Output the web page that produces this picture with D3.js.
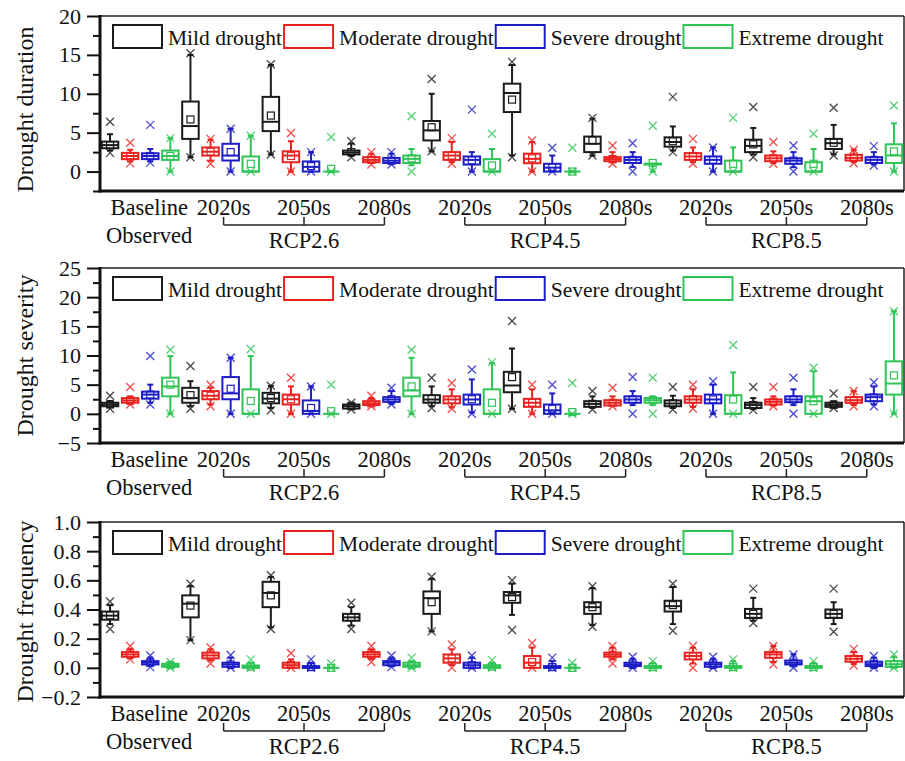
<!DOCTYPE html>
<html>
<head>
<meta charset="utf-8">
<script src="https://cdn.jsdelivr.net/npm/d3@7"></script>
<style>
  html, body { margin: 0; padding: 0; background: #fff; }
  svg text { font-family: "Liberation Serif", "Times New Roman", serif; fill: #111; }
</style>
</head>
<body>
<div id="chart"></div>
<script>
// ---- data: each row = [xMin, whiskerLo, Q1, median, Q3, whiskerHi, xMax, mean]
const groups = ['Baseline', '2020s', '2050s', '2080s', '2020s', '2050s', '2080s', '2020s', '2050s', '2080s'];
const scenarios = ['RCP2.6', 'RCP4.5', 'RCP8.5'];
const seriesNames = ['Mild drought', 'Moderate drought', 'Severe drought', 'Extreme drought'];
const seriesColors = ['#1b1b1b', '#e8231f', '#1d1dc6', '#2fc455'];

const durMild = [
  [2.4, 2.7, 3.0, 3.4, 3.85, 4.8, 6.4, 3.4],
  [1.85, 1.85, 4.2, 5.85, 9.0, 15.0, 15.2, 6.7],
  [2.2, 2.2, 5.2, 6.4, 9.6, 13.7, 13.8, 7.2],
  [1.85, 2.0, 2.2, 2.45, 2.7, 3.6, 3.9, 2.5],
  [2.6, 2.6, 4.0, 5.3, 6.5, 10.0, 11.9, 5.7],
  [1.85, 2.06, 7.65, 10.1, 11.3, 13.7, 14.1, 9.25],
  [2.06, 2.06, 2.5, 3.57, 4.5, 6.8, 6.9, 4.0],
  [2.5, 2.7, 3.2, 3.8, 4.4, 5.8, 9.6, 3.9],
  [1.85, 2.2, 2.5, 3.3, 4.1, 5.6, 8.3, 3.5],
  [2.06, 2.2, 2.9, 3.65, 4.2, 6.0, 8.2, 3.7]
];
const durModerate = [
  [1.05, 1.3, 1.6, 2.0, 2.4, 2.8, 3.7, 2.0],
  [1.0, 1.4, 2.05, 2.55, 3.1, 4.1, 4.2, 2.55],
  [0, 0, 1.2, 2.06, 2.6, 3.9, 4.95, 2.0],
  [0.9, 1.1, 1.2, 1.5, 1.85, 2.3, 2.5, 1.5],
  [1.0, 1.2, 1.5, 2.06, 2.5, 3.8, 4.3, 2.05],
  [0, 0, 1.07, 1.63, 2.3, 3.8, 4.0, 1.7],
  [1.0, 1.2, 1.33, 1.6, 1.85, 2.5, 3.35, 1.6],
  [1.0, 1.2, 1.5, 1.94, 2.37, 3.1, 4.2, 1.95],
  [1.0, 1.1, 1.33, 1.7, 2.06, 2.6, 3.8, 1.7],
  [1.07, 1.2, 1.42, 1.76, 2.15, 2.8, 2.8, 1.8]
];
const durSevere = [
  [1.15, 1.3, 1.6, 2.0, 2.35, 2.9, 6.0, 2.0],
  [0, 0, 1.42, 2.06, 3.57, 5.5, 5.5, 2.5],
  [0, 0, 0, 0.6, 1.3, 2.5, 2.5, 0.7],
  [0.9, 1.0, 1.1, 1.4, 1.75, 2.3, 2.5, 1.4],
  [0, 0, 0.9, 1.5, 1.94, 2.5, 7.96, 1.45],
  [0, 0, 0, 0.5, 1.0, 2.06, 3.05, 0.56],
  [0, 0.6, 1.1, 1.5, 1.85, 2.5, 3.65, 1.5],
  [0, 0, 1.0, 1.5, 1.94, 3.1, 3.1, 1.5],
  [0, 0.56, 1.0, 1.4, 1.7, 2.5, 3.35, 1.4],
  [0.77, 0.9, 1.1, 1.5, 1.85, 2.5, 3.27, 1.5]
];
const durExtreme = [
  [0, 0, 1.5, 2.0, 2.7, 4.3, 4.3, 2.0],
  [0, 0, 0, 0, 1.94, 4.6, 4.6, 1.0],
  [0, 0, 0, 0, 0, 0, 4.45, 0.35],
  [0, 0.8, 1.1, 1.63, 2.06, 2.9, 7.1, 1.7],
  [0, 0, 0, 0, 1.6, 2.9, 4.86, 0.77],
  [0, 0, 0, 0, 0, 0, 3.05, 0],
  [0, 0, 0.9, 1.0, 1.0, 1.0, 5.9, 1.1],
  [0, 0, 0, 0, 1.4, 3.1, 6.9, 1.0],
  [0, 0, 0, 0, 1.2, 2.9, 4.86, 1.0],
  [0, 0, 1.1, 2.06, 3.5, 6.2, 8.5, 2.6]
];

const sevMild = [
  [0.86, 1.2, 1.3, 1.6, 1.9, 2.2, 3.1, 1.6],
  [0.86, 1.3, 1.9, 2.7, 4.46, 5.6, 8.2, 3.2],
  [0.6, 1.0, 1.8, 2.6, 3.6, 4.8, 4.8, 2.7],
  [0.74, 0.9, 0.9, 1.3, 1.6, 1.9, 1.9, 1.3],
  [1.0, 1.3, 1.9, 2.46, 3.2, 4.7, 6.2, 2.6],
  [0.86, 0.86, 3.7, 4.86, 7.2, 11.2, 15.9, 6.3],
  [0.74, 1.0, 1.2, 1.7, 2.17, 3.0, 3.9, 1.7],
  [0.74, 1.0, 1.3, 1.77, 2.3, 3.1, 4.6, 1.8],
  [0.63, 0.8, 1.0, 1.5, 1.9, 2.7, 4.6, 1.5],
  [1.0, 1.1, 1.2, 1.54, 1.9, 2.17, 3.5, 1.55]
];
const sevModerate = [
  [1.6, 1.7, 1.9, 2.3, 2.7, 3.0, 4.6, 2.3],
  [1.3, 1.6, 2.5, 3.1, 3.9, 4.5, 5.0, 3.1],
  [0, 0, 1.6, 2.5, 3.3, 4.7, 6.2, 2.5],
  [1.3, 1.4, 1.5, 1.8, 2.17, 2.7, 3.1, 1.8],
  [0.86, 1.1, 1.8, 2.46, 3.0, 4.2, 5.3, 2.4],
  [0, 0, 1.2, 1.9, 2.57, 4.2, 5.0, 1.9],
  [1.3, 1.4, 1.43, 1.9, 2.34, 3.0, 4.46, 1.9],
  [0.86, 1.2, 1.9, 2.46, 3.0, 4.2, 5.0, 2.5],
  [1.3, 1.4, 1.6, 2.06, 2.46, 3.0, 4.6, 2.06],
  [1.3, 1.5, 1.9, 2.34, 2.86, 3.9, 3.9, 2.34]
];
const sevSevere = [
  [1.6, 1.9, 2.6, 3.3, 3.8, 5.0, 9.9, 3.3],
  [0, 0, 2.5, 3.5, 6.3, 9.6, 9.6, 4.3],
  [0, 0, 0, 0.5, 2.3, 4.7, 4.7, 1.0],
  [1.6, 1.7, 2.06, 2.46, 2.86, 3.9, 4.46, 2.5],
  [0, 0.2, 1.6, 2.46, 3.3, 5.9, 7.6, 2.5],
  [0, 0, 0, 0.6, 1.6, 3.5, 5.0, 0.86],
  [0, 1.5, 1.9, 2.46, 3.0, 3.9, 6.3, 2.46],
  [0, 0, 1.8, 2.46, 3.3, 5.0, 5.6, 2.46],
  [0, 1.5, 2.0, 2.46, 3.0, 4.2, 6.2, 2.46],
  [1.3, 1.6, 2.17, 2.86, 3.3, 4.7, 5.4, 2.8]
];
const sevExtreme = [
  [0, 0, 3.0, 4.7, 6.2, 9.9, 11.0, 5.0],
  [0, 0, 0, 0, 4.2, 9.9, 11.1, 2.2],
  [0, 0, 0, 0, 0, 0, 5.0, 0.45],
  [0, 0, 3.0, 4.0, 6.2, 9.6, 11.0, 4.7],
  [0, 0, 0, 0, 4.2, 8.7, 8.86, 1.9],
  [0, 0, 0, 0, 0, 0, 5.3, 0.3],
  [0, 1.5, 1.9, 2.34, 2.7, 3.0, 6.2, 2.34],
  [0, 0, 0, 0, 3.2, 7.1, 11.8, 2.46],
  [0, 0, 0, 2.17, 3.0, 7.3, 7.9, 2.17],
  [0, 0, 3.3, 5.2, 9.0, 17.6, 17.6, 6.6]
];

const frqMild = [
  [0.266, 0.30, 0.33, 0.358, 0.386, 0.43, 0.455, 0.36],
  [0.19, 0.19, 0.346, 0.44, 0.497, 0.56, 0.577, 0.427],
  [0.266, 0.277, 0.416, 0.513, 0.59, 0.624, 0.635, 0.497],
  [0.266, 0.29, 0.323, 0.346, 0.37, 0.416, 0.446, 0.346],
  [0.25, 0.25, 0.37, 0.478, 0.524, 0.61, 0.624, 0.45],
  [0.259, 0.363, 0.446, 0.497, 0.52, 0.577, 0.6, 0.485],
  [0.282, 0.293, 0.37, 0.416, 0.45, 0.547, 0.56, 0.416],
  [0.254, 0.3, 0.386, 0.423, 0.46, 0.554, 0.577, 0.43],
  [0.307, 0.323, 0.342, 0.37, 0.404, 0.48, 0.543, 0.37],
  [0.247, 0.3, 0.342, 0.37, 0.4, 0.45, 0.543, 0.37]
];
const frqModerate = [
  [0.058, 0.065, 0.076, 0.092, 0.108, 0.13, 0.15, 0.092],
  [0.03, 0.05, 0.065, 0.085, 0.104, 0.127, 0.14, 0.085],
  [0, 0, 0, 0.018, 0.035, 0.058, 0.1, 0.02],
  [0.04, 0.06, 0.076, 0.092, 0.108, 0.127, 0.15, 0.092],
  [0, 0.02, 0.035, 0.065, 0.092, 0.127, 0.16, 0.065],
  [0, 0, 0, 0.035, 0.081, 0.139, 0.17, 0.04],
  [0.03, 0.058, 0.076, 0.09, 0.104, 0.139, 0.15, 0.09],
  [0, 0.03, 0.058, 0.081, 0.104, 0.139, 0.15, 0.081],
  [0.023, 0.04, 0.069, 0.092, 0.108, 0.15, 0.15, 0.09],
  [0.016, 0.025, 0.042, 0.062, 0.081, 0.108, 0.13, 0.062]
];
const frqSevere = [
  [0.005, 0.012, 0.023, 0.035, 0.046, 0.07, 0.085, 0.035],
  [0, 0, 0.007, 0.023, 0.035, 0.07, 0.088, 0.023],
  [0, 0, 0, 0, 0.012, 0.035, 0.058, 0.005],
  [0.005, 0.01, 0.018, 0.035, 0.046, 0.07, 0.085, 0.035],
  [0, 0, 0, 0.018, 0.035, 0.07, 0.085, 0.018],
  [0, 0, 0, 0, 0.012, 0.046, 0.07, 0.005],
  [0, 0, 0.012, 0.023, 0.035, 0.062, 0.076, 0.023],
  [0, 0, 0.007, 0.023, 0.035, 0.062, 0.076, 0.023],
  [0, 0.01, 0.023, 0.035, 0.05, 0.092, 0.092, 0.035],
  [0, 0, 0.012, 0.025, 0.042, 0.07, 0.081, 0.025]
];
const frqExtreme = [
  [0, 0, 0.007, 0.018, 0.028, 0.035, 0.04, 0.018],
  [0, 0, 0, 0.005, 0.016, 0.035, 0.058, 0.008],
  [0, 0, 0, 0, 0, 0, 0.03, 0],
  [0, 0, 0.007, 0.018, 0.035, 0.046, 0.07, 0.018],
  [0, 0, 0, 0.005, 0.018, 0.035, 0.053, 0.008],
  [0, 0, 0, 0, 0, 0, 0.035, 0],
  [0, 0, 0, 0.005, 0.012, 0.035, 0.046, 0.005],
  [0, 0, 0, 0.005, 0.012, 0.046, 0.058, 0.005],
  [0, 0, 0, 0.005, 0.012, 0.035, 0.046, 0.005],
  [0, 0, 0.007, 0.025, 0.046, 0.076, 0.092, 0.025]
];

const durTicks = [0, 5, 10, 15, 20];
const sevTicks = [-5, 0, 5, 10, 15, 20, 25];
const frqTicks = [-0.2, 0.0, 0.2, 0.4, 0.6, 0.8, 1.0];

const panels = [
  { title: 'Drought duration', domain: [-2.5, 20], ticks: durTicks, minorStep: 2.5, fmt: d3.format('d'),
    series: [durMild, durModerate, durSevere, durExtreme], top: 16, titleDy: 6 },
  { title: 'Drought severity', domain: [-5, 25], ticks: sevTicks, minorStep: 2.5, fmt: d3.format('d'),
    series: [sevMild, sevModerate, sevSevere, sevExtreme], top: 268, titleDy: 0 },
  { title: 'Drought frequency', domain: [-0.2, 1.0], ticks: frqTicks, minorStep: 0.1, fmt: d3.format('.1f'),
    series: [frqMild, frqModerate, frqSevere, frqExtreme], top: 522, titleDy: 2 }
];

// ---- layout
const W = 905, H = 761;
const plotL = 100, plotR = 904, plotH = 175;
const boxW = 16.5;

const svg = d3.select('#chart').append('svg')
  .attr('width', W).attr('height', H)
  .attr('viewBox', `0 0 ${W} ${H}`);

// one slot per box: 10 groups x 4 series
const slots = d3.range(groups.length * seriesNames.length);
const x = d3.scaleBand().domain(slots).range([plotL, plotR]).padding(0);
const cx = k => x(k) + x.bandwidth() / 2;
const groupCenter = g => (cx(g * 4) + cx(g * 4 + 3)) / 2;
const labelX = g => groupCenter(g) + (g === 0 ? 9 : 3);

panels.forEach(p => {
  const g = svg.append('g');
  const bottom = p.top + plotH;
  const y = d3.scaleLinear().domain(p.domain).range([bottom, p.top]);

  // minor ticks
  const minor = d3.range(p.domain[0], p.domain[1] + p.minorStep / 2, p.minorStep)
    .filter(v => !p.ticks.some(t => Math.abs(t - v) < 1e-6));
  g.append('g')
    .attr('transform', `translate(${plotL},0)`)
    .call(d3.axisLeft(y).tickValues(minor).tickSize(7).tickFormat(''))
    .call(a => a.select('.domain').remove())
    .call(a => a.selectAll('line').attr('stroke', '#111').attr('stroke-width', 2));

  // major ticks + labels
  g.append('g')
    .attr('transform', `translate(${plotL},0)`)
    .call(d3.axisLeft(y).tickValues(p.ticks).tickSize(13).tickPadding(6).tickFormat(p.fmt))
    .call(a => a.select('.domain').remove())
    .call(a => a.selectAll('line').attr('stroke', '#111').attr('stroke-width', 2))
    .call(a => a.selectAll('text')
      .style('font-family', '"Liberation Serif", serif')
      .style('font-size', '22px').attr('fill', '#111'));

  // frame: thin top/right, heavy left/bottom
  g.append('line').attr('x1', plotL).attr('x2', plotR).attr('y1', p.top).attr('y2', p.top)
    .attr('stroke', '#222').attr('stroke-width', 1.5);
  g.append('line').attr('x1', plotR).attr('x2', plotR).attr('y1', p.top).attr('y2', bottom)
    .attr('stroke', '#222').attr('stroke-width', 1.5);
  g.append('line').attr('x1', plotL).attr('x2', plotL).attr('y1', p.top - 1).attr('y2', bottom + 1.5)
    .attr('stroke', '#111').attr('stroke-width', 3);
  g.append('line').attr('x1', plotL - 1.5).attr('x2', plotR).attr('y1', bottom).attr('y2', bottom)
    .attr('stroke', '#111').attr('stroke-width', 3);

  // y title
  g.append('text')
    .attr('transform', `translate(33,${p.top + plotH / 2 + p.titleDy}) rotate(-90)`)
    .attr('text-anchor', 'middle')
    .style('font-size', '24px')
    .text(p.title);

  // legend
  let lx = 113;
  seriesNames.forEach((name, i) => {
    g.append('rect')
      .attr('x', lx).attr('y', p.top + 9)
      .attr('width', 49).attr('height', 23)
      .attr('fill', 'none').attr('stroke', seriesColors[i]).attr('stroke-width', 2);
    const t = g.append('text')
      .attr('x', lx + 55).attr('y', p.top + 29)
      .style('font-size', '21.5px')
      .text(name);
    lx = lx + 55 + t.node().getComputedTextLength() + 2;
  });

  // boxes
  p.series.forEach((rows, si) => {
    const col = seriesColors[si];
    const bg = g.append('g').attr('stroke', col).attr('fill', 'none');
    rows.forEach((r, gi) => {
      const [mn, lo, q1, md, q3, hi, mx, mean] = r;
      const c = cx(gi * 4 + si);
      // whiskers
      bg.append('line').attr('x1', c).attr('x2', c).attr('y1', y(q3)).attr('y2', y(hi)).attr('stroke-width', 2);
      bg.append('line').attr('x1', c).attr('x2', c).attr('y1', y(q1)).attr('y2', y(lo)).attr('stroke-width', 2);
      bg.append('line').attr('x1', c - 3).attr('x2', c + 3).attr('y1', y(hi)).attr('y2', y(hi)).attr('stroke-width', 2);
      bg.append('line').attr('x1', c - 3).attr('x2', c + 3).attr('y1', y(lo)).attr('y2', y(lo)).attr('stroke-width', 2);
      // box
      bg.append('rect')
        .attr('x', c - boxW / 2).attr('y', y(q3))
        .attr('width', boxW).attr('height', Math.max(0, y(q1) - y(q3)))
        .attr('fill', '#fff').attr('stroke-width', 2);
      bg.append('line').attr('x1', c - boxW / 2).attr('x2', c + boxW / 2)
        .attr('y1', y(md)).attr('y2', y(md)).attr('stroke-width', 2);
      // mean
      bg.append('rect').attr('x', c - 3.5).attr('y', y(mean) - 3.5)
        .attr('width', 7).attr('height', 7).attr('stroke-width', 1.2);
      // extremes
      [mn, mx].forEach(v => {
        const yy = y(v);
        bg.append('path')
          .attr('d', `M${c - 4},${yy - 4}L${c + 4},${yy + 4}M${c - 4},${yy + 4}L${c + 4},${yy - 4}`)
          .attr('stroke-width', 1.3).attr('opacity', 0.8);
      });
    });
  });

  // x labels
  groups.forEach((lab, gi) => {
    g.append('text')
      .attr('x', labelX(gi)).attr('y', bottom + 24)
      .attr('text-anchor', 'middle')
      .style('font-size', '22.5px')
      .text(lab);
  });
  g.append('text')
    .attr('x', labelX(0)).attr('y', bottom + 52)
    .attr('text-anchor', 'middle')
    .style('font-size', '22.5px')
    .text('Observed');

  // scenario brackets
  scenarios.forEach((s, si) => {
    const gs = [1, 2, 3].map(k => k + si * 3);
    const xs = gs.map(labelX);
    const by = bottom + 34;
    const br = g.append('g').attr('stroke', '#222').attr('stroke-width', 1.5);
    br.append('line').attr('x1', xs[0]).attr('x2', xs[2]).attr('y1', by).attr('y2', by);
    xs.forEach(xx => br.append('line').attr('x1', xx).attr('x2', xx).attr('y1', by).attr('y2', by - 8));
    g.append('text')
      .attr('x', xs[1]).attr('y', bottom + 57)
      .attr('text-anchor', 'middle')
      .style('font-size', '22.5px')
      .text(s);
  });
});
</script>
</body>
</html>
